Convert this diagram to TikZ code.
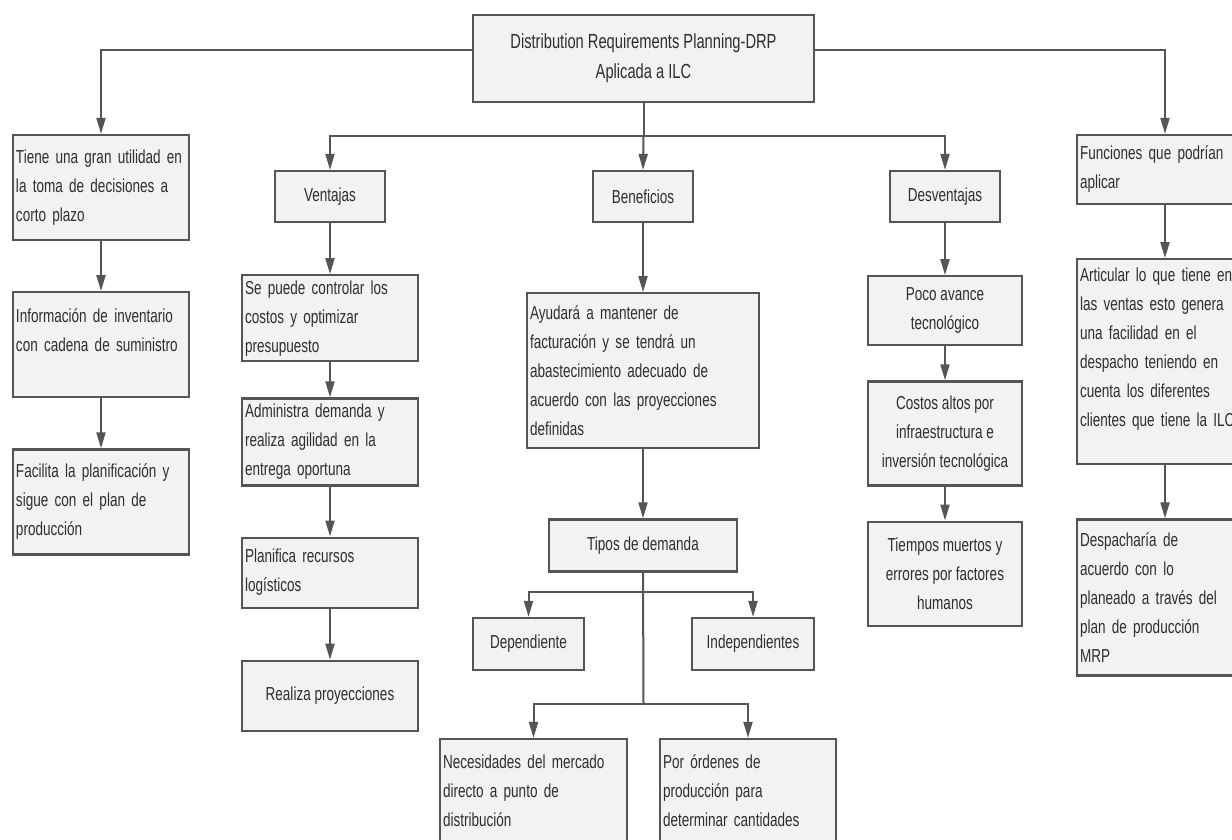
\documentclass[tikz,border=0pt]{standalone}
\usepackage{fontspec}
\setmainfont{Liberation Sans}[FakeStretch=0.72]
\usepackage{tikz}
\usetikzlibrary{arrows.meta, positioning}
\definecolor{drpline}{HTML}{555555}
\definecolor{drpfill}{HTML}{F2F2F2}
\definecolor{drptext}{HTML}{2E2E2E}

\begin{document}
\begin{tikzpicture}[
  x=0.5pt, y=0.5pt,
  box/.style={rectangle, draw=drpline, fill=drpfill, line width=1.1pt,
    text=drptext, font=\fontsize{9.4}{14.5}\selectfont,
    inner xsep=1.5pt, inner ysep=0pt, align=left,
    execute at begin node={\hyphenpenalty=10000}},
  colbox/.style={box, text width=85pt},
  cbox/.style={box, align=center},
  arrow/.style={-{Triangle[length=8pt, width=4.5pt]}, draw=drpline, line width=1pt},
  link/.style={draw=drpline, line width=1pt}
]
\useasboundingbox (0,0) rectangle (1232,-840);
\clip (0,0) rectangle (1232,-840);

% Title
\node[cbox, minimum width=170.5pt, minimum height=43.5pt,
      font=\fontsize{10.2}{15}\selectfont] (drp) at (643.5,-58.5)
  {Distribution Requirements Planning-DRP\\Aplicada a ILC};

% Headings
\node[cbox, minimum width=55pt, minimum height=25.5pt] (vent) at (330,-196.5) {Ventajas};
\node[cbox, minimum width=50pt, minimum height=25.5pt] (bene) at (643,-196.5) {Beneficios};
\node[cbox, minimum width=55pt, minimum height=25.5pt] (desv) at (945,-196.5) {Desventajas};

% Left column
\node[colbox, minimum height=52.5pt] (util) at (101,-187.5)
  {Tiene una gran utilidad en\\la toma de decisiones a\\corto plazo};
\node[colbox, minimum height=52.5pt, below=25pt of util] (inven)
  {Información de inventario\\con cadena de suministro\\\mbox{}};
\node[colbox, minimum height=52.5pt, below=25pt of inven] (facil)
  {Facilita la planificación y\\sigue con el plan de\\producción};

% Ventajas column
\node[colbox, minimum height=43pt, below=25.5pt of vent] (cost)
  {Se puede controlar los\\costos y optimizar\\presupuesto};
\node[colbox, minimum height=43.5pt, below=17.5pt of cost] (dema)
  {Administra demanda y\\realiza agilidad en la\\entrega oportuna};
\node[colbox, minimum height=35pt, below=25pt of dema] (recu)
  {Planifica recursos\\logísticos};
\node[cbox, minimum width=88pt, minimum height=35pt, below=25.5pt of recu] (proy)
  {Realiza proyecciones};

% Beneficios column
\node[box, text width=113pt, minimum height=77.5pt, below=34.5pt of bene] (ayud)
  {Ayudará a mantener de\\facturación y se tendrá un\\abastecimiento adecuado de\\acuerdo con las proyecciones\\definidas};
\node[cbox, minimum width=94pt, minimum height=26pt, below=34.5pt of ayud] (tipo)
  {Tipos de demanda};
\node[cbox, minimum width=55.5pt, minimum height=26pt] (depe) at (528.5,-644) {Dependiente};
\node[cbox, minimum width=61pt, minimum height=26pt] (inde) at (753,-644) {Independientes};
\node[box, text width=90.5pt, minimum height=52pt] (nece) at (533.5,-791)
  {Necesidades del mercado\\directo a punto de\\distribución};
\node[colbox, minimum height=52pt] (orde) at (748,-791)
  {Por órdenes de\\producción para\\determinar cantidades};

% Desventajas column
\node[cbox, minimum width=77pt, minimum height=34.5pt, below=26pt of desv] (avan)
  {Poco avance\\tecnológico};
\node[cbox, minimum width=77pt, minimum height=52pt, below=17pt of avan] (alto)
  {Costos altos por\\infraestructura e\\inversión tecnológica};
\node[cbox, minimum width=77pt, minimum height=52pt, below=17pt of alto] (tiem)
  {Tiempos muertos y\\errores por factores\\humanos};

% Right column
\node[colbox, minimum height=34.5pt] (func) at (1165,-169.5)
  {Funciones que podrían\\aplicar};
\node[colbox, minimum height=102.5pt, below=26.5pt of func] (arti)
  {Articular lo que tiene en\\las ventas esto genera\\una facilidad en el\\despacho teniendo en\\cuenta los diferentes\\clientes que tiene la ILC\\\mbox{}};
\node[colbox, minimum height=78pt, below=26.5pt of arti] (desp)
  {Despacharía de\\acuerdo con lo\\planeado a través del\\plan de producción\\MRP};

% Connectors from the title
\draw[arrow] ([yshift=4.25pt]drp.west) -| (util.north);
\draw[arrow] ([yshift=4.25pt]drp.east) -| (func.north);
\coordinate (hub) at (643.5,-136);
\draw[link] (drp.south) -- (hub);
\draw[arrow] (hub) -| (vent.north);
\draw[arrow] (hub) -- (bene.north);
\draw[arrow] (hub) -| (desv.north);

% Chains
\draw[arrow] (util) -- (inven);
\draw[arrow] (inven) -- (facil);
\draw[arrow] (vent) -- (cost);
\draw[arrow] (cost) -- (dema);
\draw[arrow] (dema) -- (recu);
\draw[arrow] (recu) -- (proy);
\draw[arrow] (bene) -- (ayud);
\draw[arrow] (ayud) -- (tipo);
\draw[arrow] (desv) -- (avan);
\draw[arrow] (avan) -- (alto);
\draw[arrow] (alto) -- (tiem);
\draw[arrow] (func) -- (arti);
\draw[arrow] (arti) -- (desp);

% Tipos de demanda branches
\coordinate (split) at (643.5,-592);
\coordinate (join) at (643.5,-704);
\draw[link] (tipo.south) -- (join);
\draw[arrow] (split) -| (depe.north);
\draw[arrow] (split) -| (inde.north);
\draw[arrow] (join) -| (nece.north);
\draw[arrow] (join) -| (orde.north);
\end{tikzpicture}
\end{document}
